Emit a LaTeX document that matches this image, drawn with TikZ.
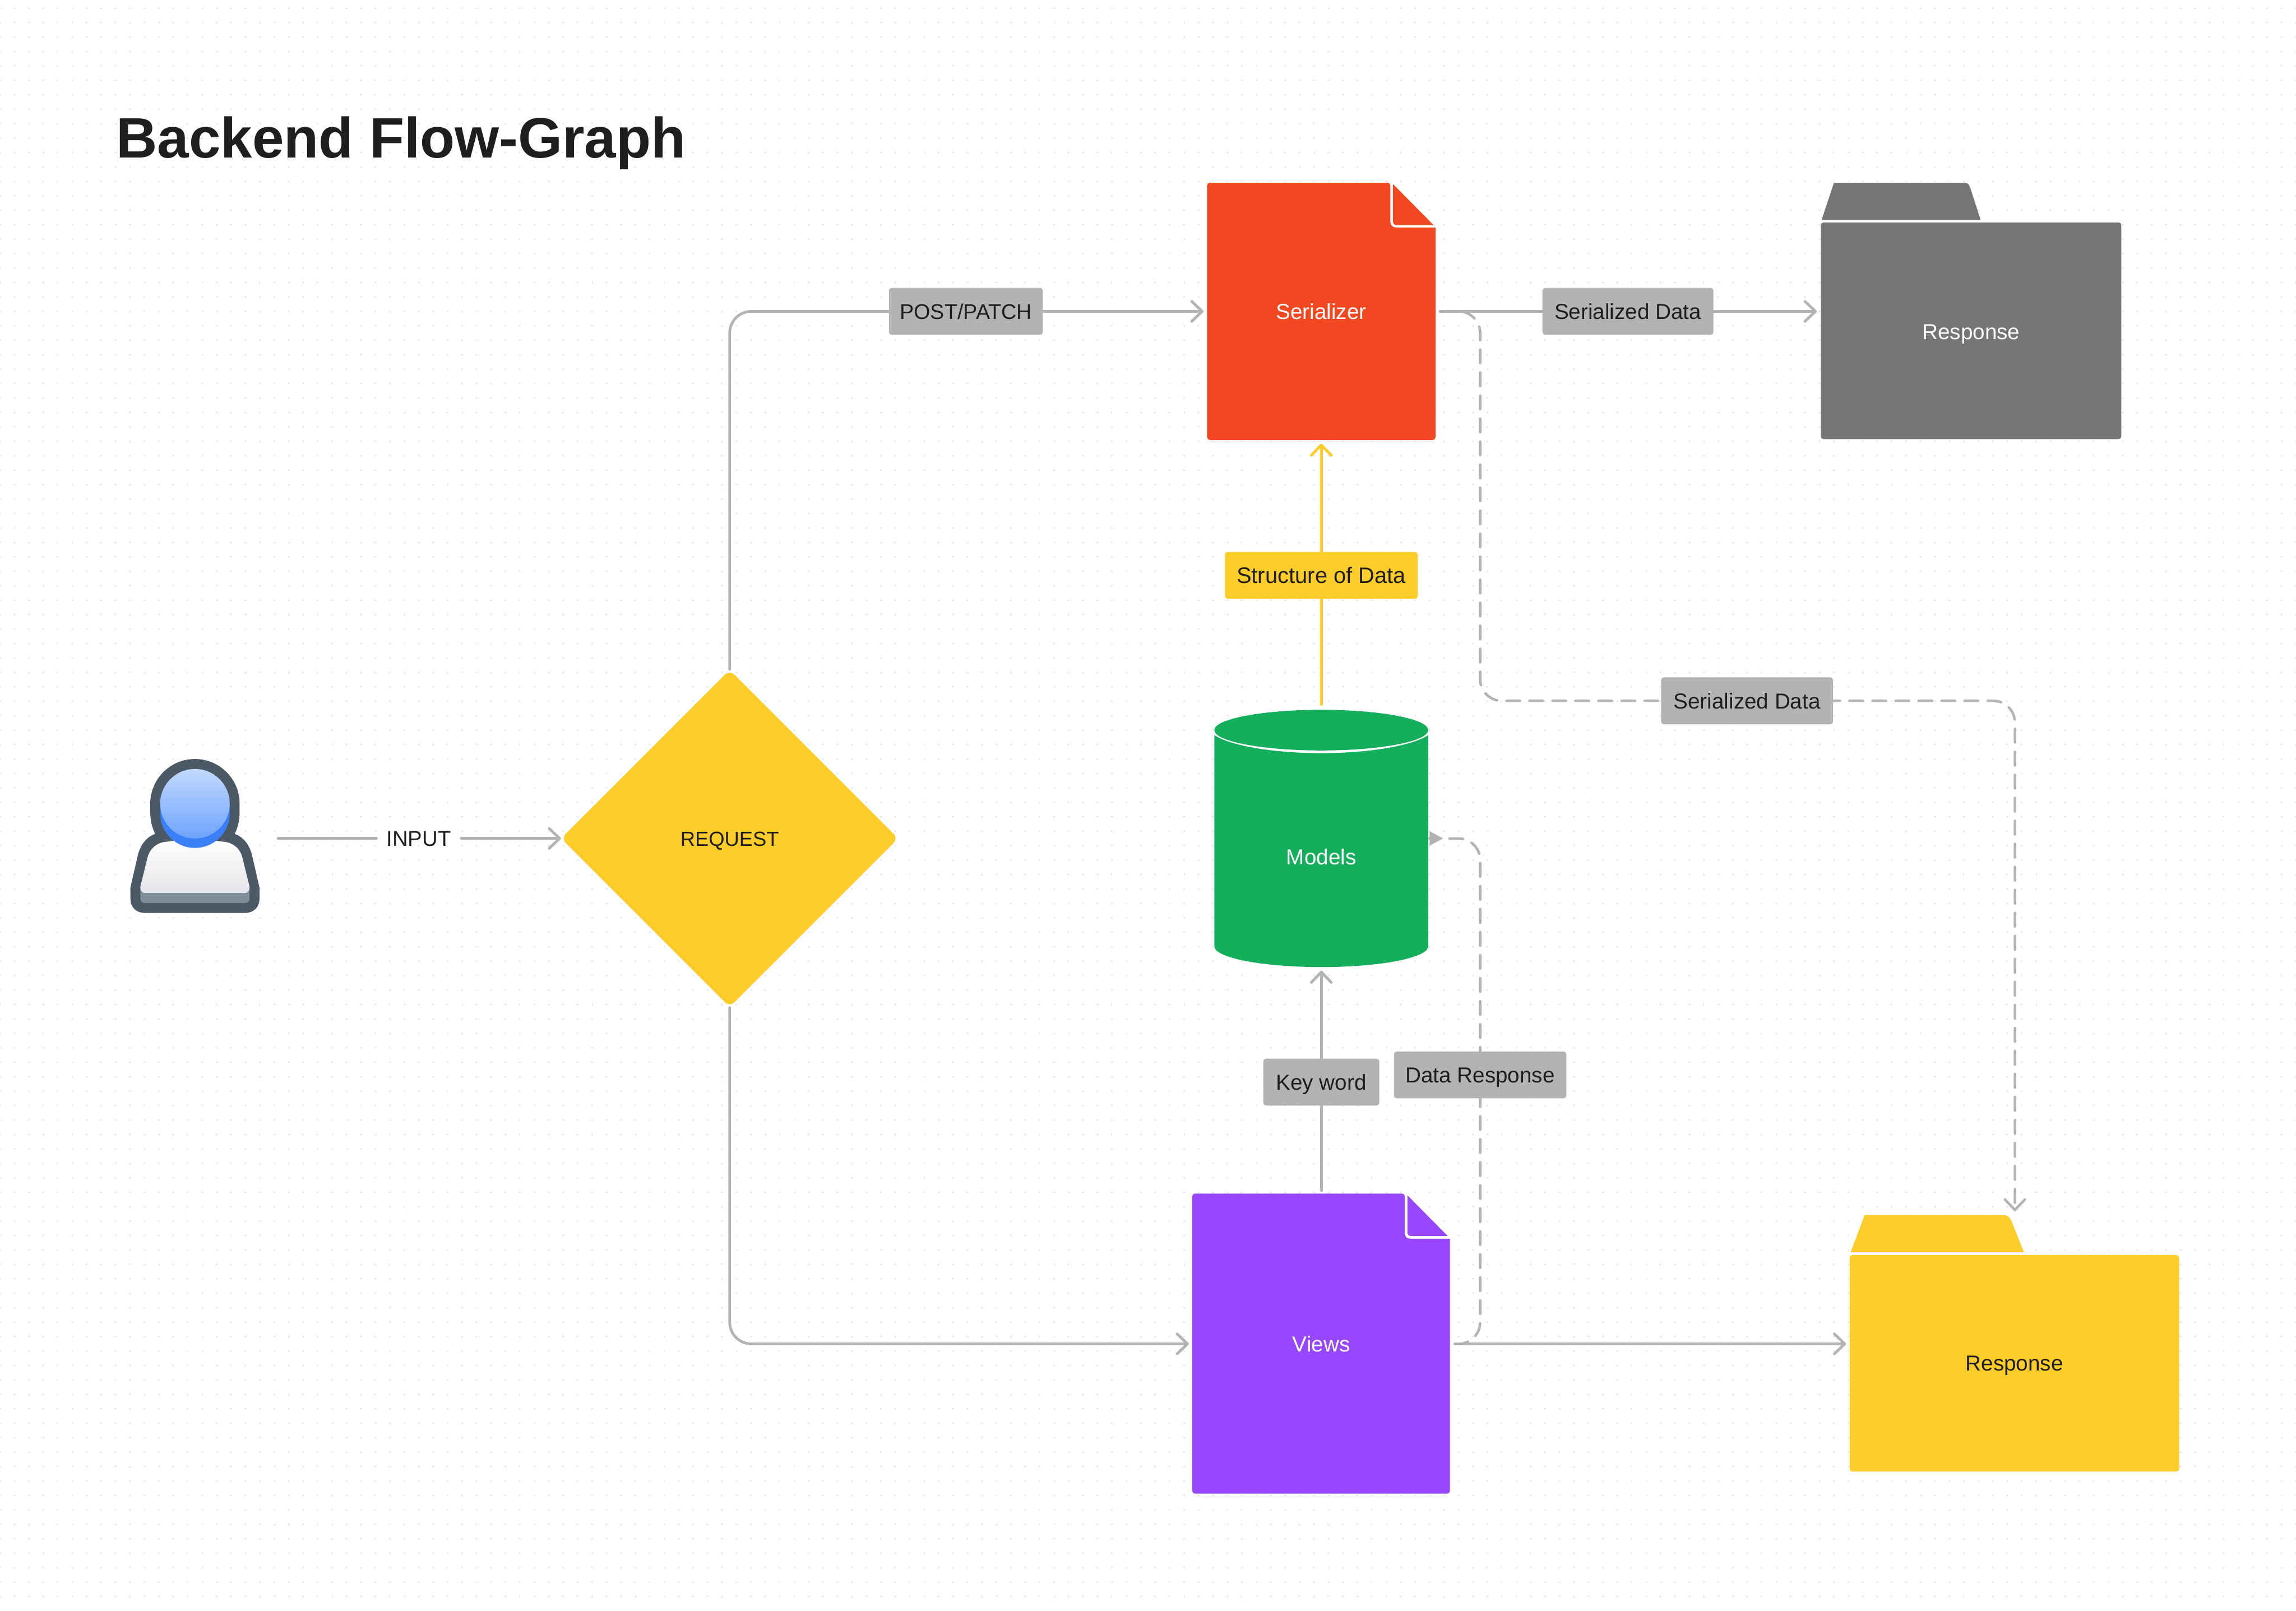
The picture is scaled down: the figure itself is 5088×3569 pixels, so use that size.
\documentclass[tikz,border=0pt]{standalone}
\usepackage{fontspec}
\setmainfont{Liberation Sans}
\usetikzlibrary{arrows.meta}
\pgfdeclarelayer{back}
\pgfsetlayers{back,main}
\definecolor{linegrey}{HTML}{B3B3B3}
\definecolor{dotgrey}{HTML}{E6E6E6}
\definecolor{inkdark}{HTML}{1E1E1E}
\definecolor{foldergrey}{HTML}{757575}
\definecolor{serialred}{HTML}{F24822}
\definecolor{modelgreen}{HTML}{14AE5C}
\definecolor{viewpurple}{HTML}{9747FF}
\definecolor{flowyellow}{HTML}{FFCD29}
\definecolor{userdark}{HTML}{4B5966}
\definecolor{userband}{HTML}{808E9C}
\definecolor{userblue}{HTML}{3B7FF9}
\definecolor{headtop}{HTML}{C2D9FF}
\definecolor{headbottom}{HTML}{6FA3FD}
\definecolor{bodybottom}{HTML}{E3E5E8}
\def\u{0.25pt}
\tikzset{
  x=0.25pt,y=-0.25pt,
  textbox/.style={inner sep=0pt,outer sep=0pt,align=center,
    font=\fontsize{12}{14}\selectfont,text height=8.6pt,text depth=0pt},
  tag/.style={textbox,fill=linegrey,text=inkdark,rounded corners=1.5pt,minimum height=26pt},
  conn/.style={draw=linegrey,line width=1.5pt,line cap=round,rounded corners=12pt},
  barb/.style={-{Straight Barb[length=5.75pt,width=11pt,round]}},
  dashline/.style={conn,line width=1.4pt,dash pattern=on 7.5pt off 5.25pt},
}
\begin{document}
\begin{tikzpicture}
\useasboundingbox (0,0) rectangle (5088,3569);
\begin{pgfonlayer}{back}
\fill[white] (0,0) rectangle (5088,3569);
\foreach \r in {0,...,110}{
  \draw[dotgrey,line width=1.15pt,line cap=round,dash pattern=on 0pt off 8pt]
    (0,18+32*\r) -- (5090,18+32*\r);
}
\end{pgfonlayer}
% title
\node[anchor=base west,inner sep=0pt,text=inkdark,font=\fontsize{31.55}{36}\selectfont\bfseries] (title) at (257,350) {Backend Flow-Graph};

% user icon
\fill[userdark] (333,1781) arc[start angle=180,end angle=360,radius=99] -- (531,1800)
  .. controls (531,1818) and (527,1834) .. (520,1848)
  .. controls (540,1855) and (552,1872) .. (558,1893)
  -- (575,1967) -- (575,1992)
  .. controls (575,2010) and (562,2023) .. (544,2023) -- (320,2023)
  .. controls (302,2023) and (289,2010) .. (289,1992) -- (289,1967) -- (306,1893)
  .. controls (312,1872) and (324,1855) .. (344,1848)
  .. controls (337,1834) and (333,1818) .. (333,1800) -- cycle;
\fill[userband] (311,1968) -- (553,1968) -- (553,1991)
  .. controls (553,1997) and (549,2001) .. (543,2001) -- (321,2001)
  .. controls (315,2001) and (311,1997) .. (311,1991) -- cycle;
\shade[top color=white,bottom color=bodybottom]
  (311,1965) -- (327,1900)
  .. controls (333,1878) and (350,1866) .. (372,1865) -- (385,1863) -- (479,1863) -- (492,1865)
  .. controls (514,1866) and (531,1878) .. (537,1900) -- (553,1965)
  .. controls (554,1973) and (549,1979) .. (543,1979) -- (321,1979)
  .. controls (315,1979) and (310,1973) .. (311,1965) -- cycle;
\fill[userblue] (355,1781) -- (355,1802) arc[start angle=180,end angle=0,radius=77] -- (509,1781) -- cycle;
\shade[top color=headtop,bottom color=headbottom] (432,1781) circle[radius=77];
\node[textbox,minimum width=286*\u,minimum height=330*\u] (user) at (432,1858) {};

% diamond
\fill[flowyellow,rounded corners=3.6pt] (1617,1484.5) -- (1990.5,1858) -- (1617,2231.5) -- (1243.5,1858) -- cycle;
\node[textbox,text=inkdark,font=\fontsize{11.3}{14}\selectfont,minimum width=738*\u,minimum height=750*\u] (request) at (1617,1858) {REQUEST};

% serializer document
\fill[serialred,rounded corners=1.5pt] (2675,405) -- (3081,405) [sharp corners] -- (3081,492)
  .. controls (3081,499) and (3086,504) .. (3093,504) -- (3181,504) [rounded corners=1.5pt] -- (3181,975) -- (2675,975) -- cycle;
\fill[serialred] (3087,408) -- (3177,499) -- (3095,499)
  .. controls (3090,499) and (3087,496) .. (3087,491) -- cycle;
\node[textbox,text=white,minimum width=506*\u,minimum height=570*\u] (serializer) at (2928,690) {Serializer};

% grey folder
\fill[foldergrey,rounded corners=1.5pt] (4037,487) [sharp corners] -- (4037,487) -- (4064,405) [rounded corners=1.5pt] -- (4068,405) -- (4358,405) -- (4364,410) [sharp corners] -- (4389,487) -- cycle;
\fill[foldergrey] (4035,493) [rounded corners=1.5pt] -- (4701,493) -- (4701,973) -- (4035,973) -- cycle;
\node[textbox,text=white,minimum width=666*\u,minimum height=480*\u] (greyresp) at (4368,735) {Response};

% models cylinder
\fill[modelgreen] (2691,1629)
  .. controls (2725,1652) and (2820,1669) .. (2928,1669)
  .. controls (3036,1669) and (3131,1652) .. (3165,1629)
  -- (3165,2097) arc[start angle=0,end angle=180,x radius=237,y radius=46] -- cycle;
\fill[modelgreen] (2928,1618) ellipse[x radius=237,y radius=45];
\node[textbox,text=white,minimum width=474*\u,minimum height=488*\u] (models) at (2928,1899) {Models};

% views document
\fill[viewpurple,rounded corners=1.5pt] (2642,2645) -- (3113,2645) [sharp corners] -- (3113,2733)
  .. controls (3113,2740) and (3118,2745) .. (3125,2745) -- (3213,2745) [rounded corners=1.5pt] -- (3213,3310) -- (2642,3310) -- cycle;
\fill[viewpurple] (3119,2649) -- (3208,2739) -- (3127,2739)
  .. controls (3122,2739) and (3119,2736) .. (3119,2731) -- cycle;
\node[textbox,text=white,minimum width=571*\u,minimum height=665*\u] (views) at (2928,2978) {Views};

% yellow folder
\fill[flowyellow,rounded corners=1.5pt] (4101,2775) [sharp corners] -- (4101,2775) -- (4132,2693) [rounded corners=1.5pt] -- (4136,2693) -- (4447,2693) -- (4455,2700) [sharp corners] -- (4485,2775) -- cycle;
\fill[flowyellow] (4099,2781) [rounded corners=1.5pt] -- (4829,2781) -- (4829,3261) -- (4099,3261) -- cycle;
\node[textbox,text=inkdark,minimum width=730*\u,minimum height=480*\u] (yellowresp) at (4464,3021) {Response};

% labels
\node[textbox,text=inkdark,font=\fontsize{11.9}{14}\selectfont,minimum width=188*\u,minimum height=60*\u] (input) at (928,1858) {INPUT};
\node[tag,font=\fontsize{11.75}{14}\selectfont,minimum width=341*\u] (post) at (2140.5,690) {POST/PATCH};
\node[tag,minimum width=379*\u] (sdtop) at (3607.5,690) {Serialized Data};
\node[tag,minimum width=381*\u] (sdmid) at (3871.5,1553) {Serialized Data};
\node[tag,fill=flowyellow,font=\fontsize{12.4}{14}\selectfont,minimum width=427*\u] (structure) at (2928,1275) {Structure of Data};
\node[tag,minimum width=257*\u] (keyword) at (2928,2398) {Key word};
\node[tag,minimum width=382*\u] (dataresp) at (3280,2382) {Data Response};

\coordinate (bendserial) at (3280,690);
\coordinate (bendfolder) at (4465,1553);
\coordinate (bendmodels) at (3280,1858);
\coordinate (modelsport) at (3168,1858);
\coordinate (viewsport) at (3280,2978);
\coordinate (folderdrop) at (4465,2684);

% solid connectors
\draw[conn,shorten <=41*\u] (user.east) -- (input.west);
\draw[conn,barb,shorten >=5*\u] (input.east) -- (request.west);
\draw[conn] (request.north) |- (post.west);
\draw[conn,barb,shorten >=8*\u] (post.east) -- (serializer.west);
\draw[conn,barb,shorten >=8*\u] (request.south) |- (views.west);
\draw[conn,flowyellow] (models.north |- 0,1561) -- (structure.south);
\draw[conn,flowyellow,barb,shorten >=8*\u] (structure.north) -- (serializer.south);
\draw[conn,shorten <=12*\u] (serializer.east) -- (sdtop.west);
\draw[conn,barb,shorten >=9*\u] (sdtop.east) -- (greyresp.west |- sdtop.east);
\draw[conn,shorten <=7*\u] (views.north) -- (keyword.south);
\draw[conn,barb,shorten >=8*\u] (keyword.north) -- (models.south);
\draw[conn,barb,shorten <=11*\u,shorten >=8*\u] (views.east) -- (yellowresp.west |- views.east);

% dashed connectors
\begin{pgfonlayer}{back}
\draw[dashline,dash phase=12.5pt,shorten <=9*\u] (serializer.east) -- (bendserial) |- (sdmid.west);
\draw[dashline,dash phase=3.625pt,barb] (sdmid.east) -- (bendfolder) -- (folderdrop);
\draw[dashline,dash phase=1.75pt] (modelsport) -- (bendmodels) -- (viewsport) -- ([xshift=8*\u]views.east);
\end{pgfonlayer}
\fill[linegrey] (modelsport) ++(0,-16) -- ++(30,16) -- ++(-30,16) -- cycle;
\end{tikzpicture}
\end{document}
